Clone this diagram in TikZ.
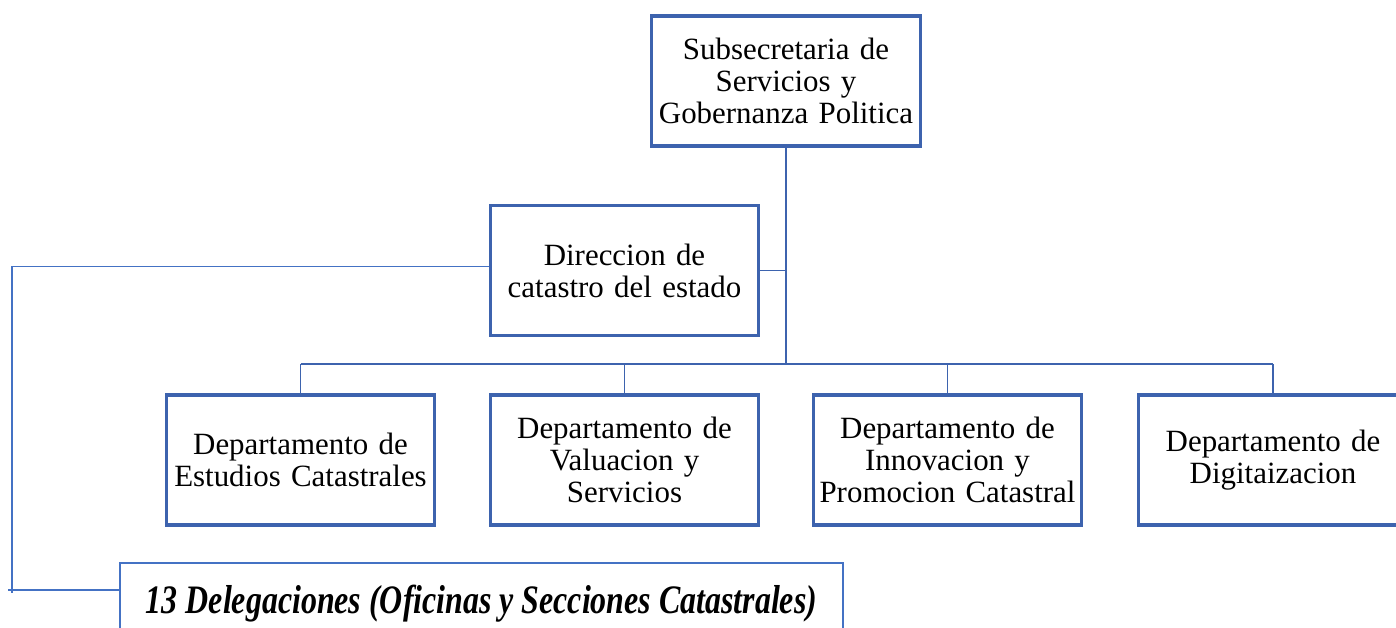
\documentclass[tikz,border=0pt]{standalone}
\usepackage{fontspec}
\setmainfont{Liberation Serif}
\usepackage{tikz}
\usetikzlibrary{positioning,calc}
\definecolor{boxline}{HTML}{3D63AE}
\definecolor{thinline}{HTML}{4472C4}

\begin{document}
\begin{tikzpicture}[x=0.02cm,y=-0.02cm,
  font=\fontsize{17.6}{18.2}\selectfont,
  unit/.style={draw=boxline,line width=1.9pt,minimum width=5.3cm,minimum height=2.6cm,
    inner sep=1pt,align=center,text width=5.3cm},
  link/.style={draw=boxline,line width=1.1pt},
  thin/.style={draw=thinline,line width=0.6pt}]
\useasboundingbox (0,0) rectangle (1396,628);
\clip (0,0) rectangle (1396,628);
\node[unit] (sub) at (786,81) {Subsecretaria de\\Servicios y\\Gobernanza Politica};
\node[unit] (dir) at (624.5,270.5) {Direccion de\\catastro del estado};
\foreach \i/\name/\x in {1/{Departamento de\\Estudios Catastrales}/300.5,
  2/{Departamento de\\Valuacion y\\Servicios}/624.5,
  3/{Departamento de\\Innovacion y\\Promocion Catastral}/947.5,
  4/{Departamento de\\Digitaizacion}/1273}
  \node[unit] (d\i) at (\x,460) {\name};
\node[draw=thinline,line width=1.2pt,minimum width=14.46cm,minimum height=1.64cm,
  font=\fontsize{23}{24}\selectfont\bfseries\itshape] (del) at (481.5,604)
  {\scalebox{0.79}[1]{13 Delegaciones (Oficinas y Secciones Catastrales)}};
% trunk and bus
\coordinate (bus) at (786,364);
\draw[draw=boxline,line width=1.5pt] (sub.south) -- (bus);
\draw[link] (dir.east) -- (dir.east -| bus);
\draw[link] (d1.north |- bus) -- (d4.north |- bus);
\foreach \i in {1,...,4} \draw[link] (d\i.north |- bus) -- (d\i.north);
% delegaciones
\coordinate (bend) at (12,590);
\draw[thin] ($(dir.west)+(0,-4)$) -| ($(bend)+(0,3)$);
\draw[thin] ($(bend)+(-4,0)$) -- (bend -| del.west);
\end{tikzpicture}
\end{document}
